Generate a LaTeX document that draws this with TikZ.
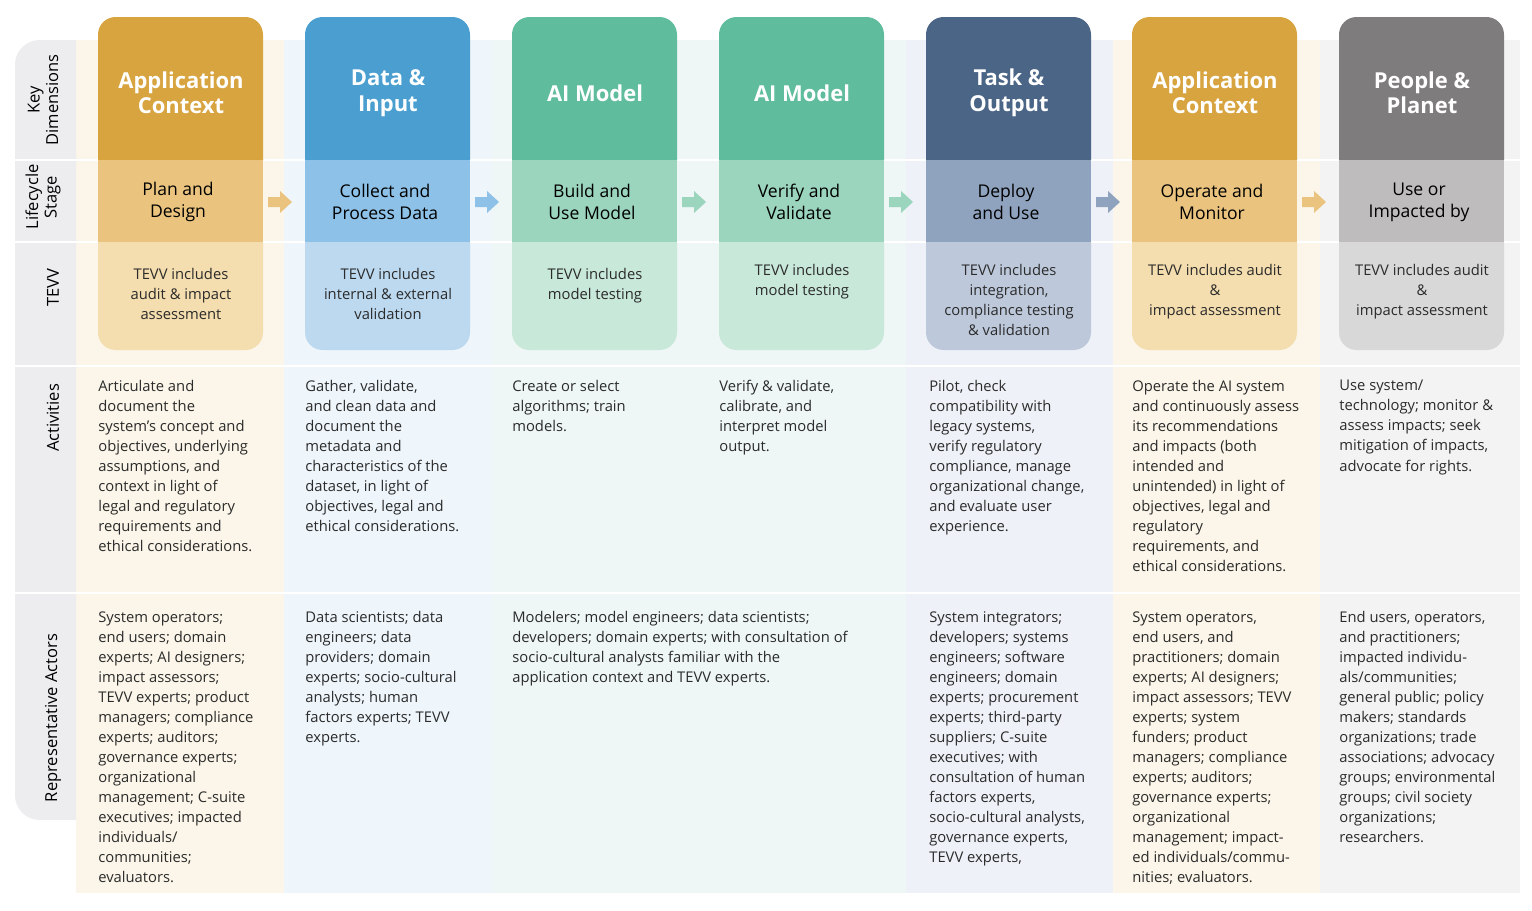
\documentclass[tikz,border=0pt]{standalone}
\usepackage{fontspec}
\setmainfont{Open Sans}
\usetikzlibrary{calc}
\definecolor{appA}{HTML}{D7A440}\definecolor{appB}{HTML}{EAC47F}\definecolor{appC}{HTML}{F4DDAE}\definecolor{appD}{HTML}{FBF6E9}
\definecolor{datA}{HTML}{4B9FD0}\definecolor{datB}{HTML}{8EC1E7}\definecolor{datC}{HTML}{BCD9F0}\definecolor{datD}{HTML}{EEF5FB}
\definecolor{modA}{HTML}{5FBC9C}\definecolor{modB}{HTML}{9BD5BD}\definecolor{modC}{HTML}{C8E8D9}\definecolor{modD}{HTML}{EEF6F6}
\definecolor{tskA}{HTML}{4B6586}\definecolor{tskB}{HTML}{8FA3BF}\definecolor{tskC}{HTML}{BDC9DB}\definecolor{tskD}{HTML}{EEF1F7}
\definecolor{pplA}{HTML}{7F7C7D}\definecolor{pplB}{HTML}{BEBCBD}\definecolor{pplC}{HTML}{D9D8D8}\definecolor{pplD}{HTML}{F3F3F3}
\definecolor{side}{HTML}{EDEDEF}
\definecolor{ink}{HTML}{2B2B2B}
\tikzset{
  head/.style={text=white, font=\fontsize{12.5}{14.5}\selectfont\bfseries, align=center},
  stage/.style={text=black, font=\fontsize{10}{12.5}\selectfont, align=center},
  tevv/.style={text=ink, font=\fontsize{8.4}{11.4}\selectfont, align=center, anchor=north},
  body/.style={text=ink, font=\fontsize{8.4}{11.4}\selectfont, align=left, anchor=north west, inner sep=0pt},
  rowlab/.style={rotate=90, text=black, font=\fontsize{9.4}{10.5}\selectfont, align=center},
}
\begin{document}
\begin{tikzpicture}[x=0.02cm, y=-0.02cm]
  \useasboundingbox (0,0) rectangle (1532,910);
  % column backgrounds and left band
  \foreach \x/\w/\cl in {76/208/app,284/208/dat,492/414/mod,906/207/tsk,1113/207/app,1320/200/ppl}
    \fill[\cl D] (\x,40) rectangle ++(\w,853);
  \fill[side] (76,40) {[rounded corners=14pt] -- (15,40) -- (15,820)} -- (76,820) -- cycle;
  \foreach \y in {160,242,366,593}
    \draw[white, line width=1.2pt] (15,\y) -- (1520,\y);
  % row labels
  \node[rowlab] (lkey) at (43,100) {Key\\Dimensions};
  \node[rowlab] (lstage) at (43,197) {Lifecycle\\Stage};
  \node[rowlab] (ltevv) at (53,288) {TEVV};
  \node[rowlab] (lact) at (53,418) {Activities};
  \node[rowlab] (lactor) at (53,718) {Representative Actors};
  % cards
  \foreach \n/\x/\cl/\ty/\hd/\st/\tv in {
    1/98/app/262/{Application\\Context}/{Plan and\\Design}/{TEVV includes\\audit \& impact\\assessment},
    2/305/dat/262/{Data \&\\Input}/{Collect and\\Process Data}/{TEVV includes\\internal \& external\\validation},
    3/512/mod/262/{AI Model}/{Build and\\Use Model}/{TEVV includes\\model testing},
    4/719/mod/258/{AI Model}/{Verify and\\Validate}/{TEVV includes\\model testing},
    5/926/tsk/258/{Task \&\\Output}/{Deploy\\and Use}/{TEVV includes\\integration,\\compliance testing\\\& validation},
    6/1132/app/258/{Application\\Context}/{Operate and\\Monitor}/{TEVV includes audit\\\&\\impact assessment},
    7/1339/ppl/258/{People \&\\Planet}/{Use or\\Impacted by}/{TEVV includes audit\\\&\\impact assessment}} {
    \fill[\cl A] (\x,160) {[rounded corners=10pt] -- (\x,17) -- ++(165,0)} -- (\x+165,160) -- cycle;
    \fill[\cl B] (\x,160) rectangle ++(165,82);
    \fill[\cl C] (\x,242) {[rounded corners=10pt] -- (\x,350) -- ++(165,0)} -- (\x+165,242) -- cycle;
    \node[head] (hd\n) at (\x+83,93) {\hd};
    \node[stage] (st\n) at (\x+80,202) {\st};
    \node[tevv] (tv\n) at (\x+83,\ty) {\tv};
  }
  % stage arrows
  \foreach \n/\cl in {1/app,2/dat,3/mod,4/mod,5/tsk,6/app} {
    \coordinate (ar\n) at ($(st\n.center)+(87,0)$);
    \fill[\cl B] ($(ar\n)+(3,-5)$) -- ++(12,0) -- ++(0,-6) -- ++(12,11) -- ++(-12,11) -- ++(0,-6) -- ++(-12,0) -- cycle;
  }
  % activities
  \node[body] (ac1) at (98,380) {Articulate and\\document the\\system's concept and\\objectives, underlying\\assumptions, and\\context in light of\\legal and regulatory\\requirements and\\ethical considerations.};
  \node[body] (ac2) at (305,380) {Gather, validate,\\and clean data and\\document the\\metadata and\\characteristics of the\\dataset, in light of\\objectives, legal and\\ethical considerations.};
  \node[body] (ac3) at (512,380) {Create or select\\algorithms; train\\models.};
  \node[body] (ac4) at (719,380) {Verify \& validate,\\calibrate, and\\interpret model\\output.};
  \node[body] (ac5) at (929,380) {Pilot, check\\compatibility with\\legacy systems,\\verify regulatory\\compliance, manage\\organizational change,\\and evaluate user\\experience.};
  \node[body] (ac6) at (1132,380) {Operate the AI system\\and continuously assess\\its recommendations\\and impacts (both\\intended and\\unintended) in light of\\objectives, legal and\\regulatory\\requirements, and\\ethical considerations.};
  \node[body] (ac7) at (1339,380) {Use system/\\technology; monitor \&\\assess impacts; seek\\mitigation of impacts,\\advocate for rights.};
  % representative actors
  \node[body] (ra1) at (98,611) {System operators;\\end users; domain\\experts; AI designers;\\impact assessors;\\TEVV experts; product\\managers; compliance\\experts; auditors;\\governance experts;\\organizational\\management; C-suite\\executives; impacted\\individuals/\\communities;\\evaluators.};
  \node[body] (ra2) at (305,611) {Data scientists; data\\engineers; data\\providers; domain\\experts; socio-cultural\\analysts; human\\factors experts; TEVV\\experts.};
  \node[body] (ra3) at (512,611) {Modelers; model engineers; data scientists;\\developers; domain experts; with consultation of\\socio-cultural analysts familiar with the\\application context and TEVV experts.};
  \node[body] (ra5) at (929,611) {System integrators;\\developers; systems\\engineers; software\\engineers; domain\\experts; procurement\\experts; third-party\\suppliers; C-suite\\executives; with\\consultation of human\\factors experts,\\socio-cultural analysts,\\governance experts,\\TEVV experts,};
  \node[body] (ra6) at (1132,611) {System operators,\\end users, and\\practitioners; domain\\experts; AI designers;\\impact assessors; TEVV\\experts; system\\funders; product\\managers; compliance\\experts; auditors;\\governance experts;\\organizational\\management; impact-\\ed individuals/commu-\\nities; evaluators.};
  \node[body] (ra7) at (1339,611) {End users, operators,\\and practitioners;\\impacted individu-\\als/communities;\\general public; policy\\makers; standards\\organizations; trade\\associations; advocacy\\groups; environmental\\groups; civil society\\organizations;\\researchers.};
\end{tikzpicture}
\end{document}
